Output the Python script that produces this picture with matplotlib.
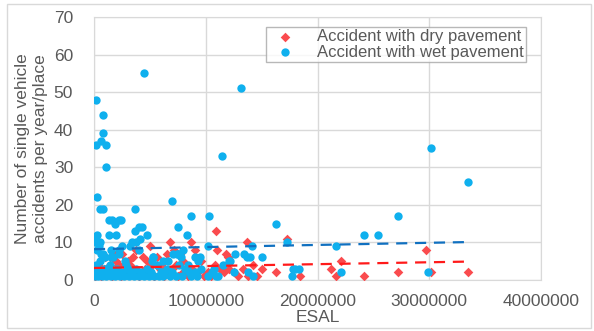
import numpy as np
import matplotlib
matplotlib.use('Agg')
from matplotlib import pyplot as plt
from matplotlib.patches import Rectangle

plt.rcParams['font.family'] = ['Liberation Sans', 'DejaVu Sans']

# ESAL in millions, accidents per year/place
wet_esal = [0.2, 0.78, 0.83, 0.63, 0.18, 1.1, 1.05, 4.5, 13.15, 11.45, 30.2, 33.5, 27.2, 24.2,
            25.4, 21.7, 16.3, 0.24, 0.54, 0.83, 3.67, 7.0, 8.7, 10.3, 1.3, 1.6, 2.2, 2.45, 1.9,
            4.3, 7.5, 3.7, 4.05, 0.27, 1.3, 2.0, 8.3, 4.7, 0.03, 0.08, 0.5, 3.4, 4.1, 3.75,
            0.47, 2.5, 2.2, 1.5, 0.83, 1.0, 1.7, 2.26, 1.5, 3.2, 5.2, 5.3, 6.6, 7.1, 7.5, 7.8,
            9.0, 9.3, 9.5, 10.2, 12.2, 12.6, 13.4, 13.7, 14.1, 15.0, 14.0, 17.3, 12.1, 7.4,
            5.3, 0.3, 0.6, 2.8, 4.0, 6.2, 8.0,
            0.05, 0.1, 0.3, 0.4, 0.6, 0.7, 0.9, 1.1, 1.2, 1.4, 1.5, 1.7, 1.9, 2.1, 2.3, 2.5,
            2.7, 2.9, 3.1, 3.3, 3.6, 3.8, 4.0, 4.2, 4.5, 4.7, 4.9, 5.1, 5.4, 5.6, 5.8, 6.0,
            6.2, 6.5, 6.8, 7.0, 7.3, 7.6, 7.9, 8.1, 8.4, 8.7, 9.0, 9.2, 9.6, 10.2, 10.6, 10.7,
            10.9, 11.1, 11.5, 12.5, 13.8, 14.25, 17.7, 17.8, 18.3, 18.0, 22.1, 29.85, 0.2, 1.0,
            2.0, 3.0, 6.3, 8.5, 0.5]
wet_acc = [48, 44, 39, 37, 36, 36, 30, 55, 51, 33, 35, 26, 17, 12,
           12, 9, 15, 22, 19, 19, 19, 21, 17, 17, 16, 16, 16, 16, 15,
           14, 14, 13, 14, 12, 12, 12, 12, 12, 11, 10, 10, 10, 11, 10,
           9, 9, 8, 8, 7, 6, 6, 7, 6, 9, 5, 6, 5, 7, 7, 6,
           6, 5, 6, 9, 5, 7, 7, 6, 9, 6, 6, 10, 5, 7,
           6, 8, 7, 5, 8, 5, 8,
           2, 1, 3, 1, 2, 1, 3, 1, 2, 4, 1, 2, 1, 3, 1, 2,
           1, 4, 1, 2, 1, 3, 1, 2, 1, 3, 1, 2, 1, 4, 1, 2,
           1, 3, 1, 2, 1, 4, 1, 3, 4, 1, 2, 1, 3, 1, 2, 3,
           1, 1, 4, 2, 2, 1, 1, 3, 3, 3, 2, 2, 4, 3,
           2, 3, 2, 2, 5]

dry_esal = [10.9, 17.3, 6.8, 8.7, 13.7, 5.0, 3.75, 9.0, 11.8, 7.2, 7.7, 29.75, 3.5, 4.4,
            5.6, 2.5, 1.0, 14.25, 10.8, 9.6, 22.1, 4.7, 2.0, 6.0, 8.0, 12.0, 11.0, 1.8, 3.0,
            6.5,
            21.2, 21.7, 24.2, 27.2, 30.2, 33.5, 18.4, 15.0, 16.3, 11.3, 12.1, 12.9, 13.35,
            13.8, 10.2, 7.3, 0.1, 0.3, 0.6, 0.9, 1.2, 1.6, 2.0, 2.4, 2.8, 3.2, 3.6, 4.0,
            4.6, 5.0, 5.4, 5.9, 6.3, 6.7, 7.0, 7.5, 8.0, 8.4, 8.8, 9.3, 9.8, 10.5, 11.6,
            12.5, 14.6, 0.4, 1.4, 2.2, 5.2]
dry_acc = [13, 11, 10, 10, 10, 9, 8, 8, 7, 8, 7, 8, 6, 6,
           6, 7, 6, 4, 4, 5, 5, 5, 5, 4, 5, 6, 8, 7, 5,
           7,
           3, 1, 1, 2, 2, 2, 1, 3, 2, 3, 3, 1, 3,
           1, 2, 4, 1, 2, 1, 3, 2, 1, 3, 1, 2, 4, 2, 1,
           3, 2, 1, 3, 1, 2, 3, 1, 2, 1, 3, 2, 1, 1, 2,
           2, 1, 4, 4, 4, 4]

# linear trend lines (intercept, value at the last ESAL point)
dry_trend = [3.2, 4.9]
wet_trend = [8.2, 10.1]

wet_x = np.array(wet_esal) * 1e6
dry_x = np.array(dry_esal) * 1e6

fig = plt.figure(figsize=(5.94, 3.31), dpi=100)
ax = fig.add_axes([94 / 594, 1 - 280 / 331, 447 / 594, 263 / 331])

ax.scatter(dry_x, dry_acc, marker='D', s=24, color='#fa4b4e', linewidths=0,
           label='Accident with dry pavement', zorder=3)
ax.scatter(wet_x, wet_acc, marker='o', s=36, color='#0fb0ee', linewidths=0,
           label='Accident with wet pavement', zorder=4)

ax.plot([0, dry_x.max()], dry_trend, '--', color='#ff1a1a', lw=1.6, dashes=(5, 3.5), zorder=5)
ax.plot([0, wet_x.max()], wet_trend, '--', color='#1070c0', lw=1.6, dashes=(5, 3.5), zorder=5)

ax.set_xlim(0, 40000000)
ax.set_ylim(0, 70)
ax.set_xticks(np.arange(0, 40000001, 10000000))
ax.set_yticks(np.arange(0, 71, 10))
ax.set_xticklabels(['%d' % v for v in np.arange(0, 40000001, 10000000)])
ax.grid(True, color='#d9d9d9', lw=1)
ax.set_axisbelow(True)
for s in ax.spines.values():
    s.set_color('#d9d9d9')
ax.tick_params(length=0, labelsize=12.5, colors='#595959', pad=10)
ax.tick_params(axis='y', pad=15)

ax.set_xlabel('ESAL', fontsize=12.5, color='#595959', labelpad=1)
ax.set_ylabel('Number of single vehicle\naccidents per year/place', fontsize=12.5,
              color='#595959', labelpad=4, linespacing=1.25)

leg = ax.legend(loc='upper right', bbox_to_anchor=(526 / 594, 1 - 27 / 331),
                bbox_transform=fig.transFigure, borderaxespad=0, fontsize=12,
                handlelength=2.0, handletextpad=0.9, labelspacing=0.0, borderpad=0.15,
                frameon=True, fancybox=False, scatterpoints=1)
leg.get_frame().set_edgecolor('#a6a6a6')
leg.get_frame().set_linewidth(1)
for t in leg.get_texts():
    t.set_color('#595959')

fig.patches.append(Rectangle((7 / 594, 1 - 328 / 331), 584 / 594, 324 / 331,
                             transform=fig.transFigure, fill=False,
                             edgecolor='#d9d9d9', lw=1))

fig.savefig('out.png', dpi=100)
